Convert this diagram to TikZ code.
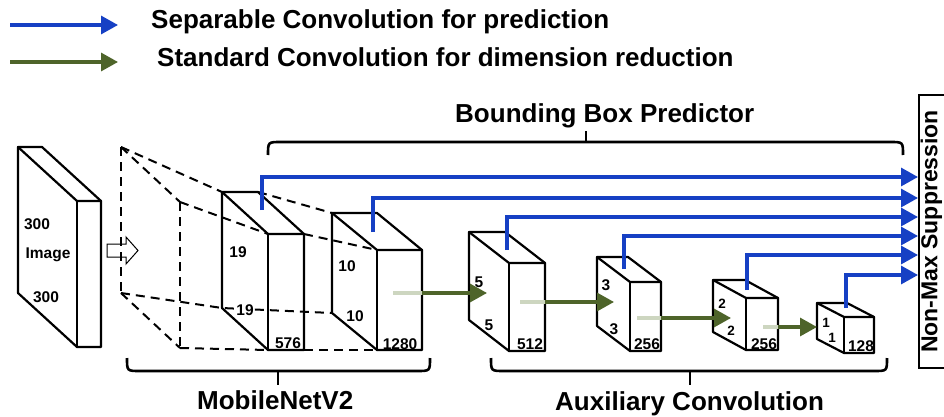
\documentclass[tikz,border=0pt]{standalone}
\usepackage{fontspec}
\setmainfont{Liberation Sans}
\usetikzlibrary{arrows.meta}
\definecolor{sepblue}{RGB}{22,64,196}
\definecolor{stdgreen}{RGB}{78,100,42}
\definecolor{stdfade}{RGB}{205,214,192}
\tikzset{
  blk/.style={draw=black, line width=2.2pt, line join=round, line cap=round},
  hiddenline/.style={draw=black, line width=2pt, dash pattern=on 9pt off 6pt},
  sep/.style={draw=sepblue, line width=3.2pt, -{Triangle[length=17pt,width=18pt]}},
  std/.style={draw=stdgreen, line width=3.2pt, -{Triangle[length=17pt,width=18pt]}},
  fadeline/.style={draw=stdfade, line width=3.2pt},
  bracepath/.style={draw=black, line width=2.6pt},
  title/.style={font=\fontsize{26}{29}\selectfont\bfseries, inner sep=0pt},
  dimlabel/.style={font=\fontsize{15.5}{17}\selectfont\bfseries, inner sep=0pt},
  smalllabel/.style={font=\fontsize{13.5}{15}\selectfont\bfseries, inner sep=0pt},
}
% cuboid: name, x, y (back top-left), width, height, depth dx, depth dy
\newcommand\featcube[7]{%
  \coordinate (#1-bl) at (#2,#3);
  \coordinate (#1-br) at (#2+#4,#3);
  \coordinate (#1-fl) at (#2+#6,#3+#7);
  \coordinate (#1-fr) at (#2+#4+#6,#3+#7);
  \coordinate (#1-fb) at (#2+#6,#3+#7+#5);
  \coordinate (#1-fbr) at (#2+#4+#6,#3+#7+#5);
  \coordinate (#1-bb) at (#2,#3+#5);
  \draw[blk] (#1-bl) -- (#1-br) -- (#1-fr) -- (#1-fbr) -- (#1-fb) -- (#1-bb) -- cycle;
  \draw[blk] (#1-bl) -- (#1-fl) -- (#1-fr);
  \draw[blk] (#1-fl) -- (#1-fb);
}
\begin{document}
\begin{tikzpicture}[x=1pt,y=-1pt]
\useasboundingbox (0,0) rectangle (944,417);

% legend
\coordinate (lga) at (10,25);  \coordinate (lgb) at (118,25);
\coordinate (lgc) at (10,62);  \coordinate (lgd) at (118,62);
\draw[sep] (lga) -- (lgb);
\draw[std] (lgc) -- (lgd);
\node[title, anchor=base west] (lgsep) at (151,29) {Separable Convolution for prediction};
\node[title, anchor=base west] (lgstd) at (157,67) {Standard Convolution for dimension reduction};

% input image slab
\featcube{img}{18}{147}{24}{146}{59}{54}
\node[dimlabel] (img300a) at (37,224) {300};
\node[dimlabel] (imgname) at (48,255) {Image};
\node[dimlabel] (img300b) at (46,297) {300};

% hollow arrow into the backbone
\draw[line width=1pt, line join=miter] (107,244) -- (126,244) -- (126,237) -- (138,250.5)
  -- (126,264) -- (126,257) -- (107,257) -- cycle;

% dashed backbone volume
\coordinate (dtl) at (121,147);
\coordinate (dbl) at (121,293);
\coordinate (dtf) at (180,202);
\coordinate (dbf) at (180,348);
\draw[hiddenline] (dtl) -- (dbl);
\draw[hiddenline] (dtf) -- (dbf);
\draw[hiddenline] (dtl) -- (dtf);
\draw[hiddenline] (dbl) -- (dbf);

% feature maps
\featcube{c19}{222}{192}{36}{116}{46}{42}
\featcube{c10}{332}{213}{45}{100}{45}{37}
\featcube{c5}{469}{232}{36}{88}{40}{31}
\featcube{c3}{597}{257}{31}{69}{33}{25}
\featcube{c2}{713}{280}{32}{52}{33}{18}
\featcube{c1}{817}{303}{30}{36}{27}{14}

% dashed projection lines
\draw[hiddenline] (dtl) -- (c19-bl);
\draw[hiddenline] (dtf) -- (c19-fl);
\draw[hiddenline] (dbl) -- (c19-bb) -- (c10-bb);
\draw[hiddenline] (dbf) -- (c19-fb);
\draw[hiddenline] (c19-br) -- (c10-bl);
\draw[hiddenline] (c19-fr) -- (c10-fl);
\draw[hiddenline] (c19-fbr) -- (c10-fb);

% dimension labels
\node[dimlabel] (l19a) at (238,252) {19};
\node[dimlabel, fill=white, inner sep=0.5pt] (l19b) at (245,310) {19};
\node[dimlabel] (l576) at (288,343) {576};
\node[dimlabel] (l10a) at (347,266) {10};
\node[dimlabel] (l10b) at (355,316) {10};
\node[dimlabel] (l1280) at (400,344) {1280};
\node[dimlabel] (l5a) at (479,282) {5};
\node[dimlabel] (l5b) at (489,325) {5};
\node[dimlabel] (l512) at (530,344) {512};
\node[dimlabel] (l3a) at (606,285) {3};
\node[dimlabel] (l3b) at (614,329) {3};
\node[dimlabel] (l256a) at (647,344) {256};
\node[smalllabel] (l2a) at (722,304) {2};
\node[smalllabel] (l2b) at (731,331) {2};
\node[dimlabel] (l256b) at (764,344) {256};
\node[smalllabel] (l1a) at (826,323) {1};
\node[smalllabel] (l1b) at (832,338) {1};
\node[dimlabel] (l128) at (861,346) {128};

% non-max suppression
\node[draw, line width=1.5pt, minimum width=32pt, minimum height=273pt, inner sep=0pt]
  (nms) at (935,231.5) {};
\node[rotate=90, font=\fontsize{23}{25}\selectfont\bfseries, inner sep=0pt]
  (nmstext) at (931.5,231.5) {Non-Max Suppression};

% prediction heads
\coordinate (p19) at (262,210);  \coordinate (n1) at (918,177);
\coordinate (p10) at (373,232);  \coordinate (n2) at (918,198);
\coordinate (p5)  at (507,250);  \coordinate (n3) at (918,217);
\coordinate (p3)  at (624,269);  \coordinate (n4) at (918,236);
\coordinate (p2)  at (747,290);  \coordinate (n5) at (918,255);
\coordinate (p1)  at (846,308);  \coordinate (n6) at (918,275);
\draw[sep] (p19) |- (n1);
\draw[sep] (p10) |- (n2);
\draw[sep] (p5)  |- (n3);
\draw[sep] (p3)  |- (n4);
\draw[sep] (p2)  |- (n5);
\draw[sep] (p1)  |- (n6);

% dimension reduction steps
\coordinate (g10s) at (393,293); \coordinate (g10e) at (422,293); \coordinate (g5in) at (487,293);
\coordinate (g5s)  at (520,302); \coordinate (g5e)  at (545,302); \coordinate (g3in) at (614,302);
\coordinate (g3s)  at (637,318); \coordinate (g3e)  at (661,318); \coordinate (g2in) at (731,318);
\coordinate (g2s)  at (763,327); \coordinate (g2e)  at (778,327); \coordinate (g1in) at (817,327);
\draw[fadeline] (g10s) -- (g10e);
\draw[std] (g10e) -- (g5in);
\draw[fadeline] (g5s) -- (g5e);
\draw[std] (g5e) -- (g3in);
\draw[fadeline] (g3s) -- (g3e);
\draw[std] (g3e) -- (g2in);
\draw[fadeline] (g2s) -- (g2e);
\draw[std] (g2e) -- (g1in);

% braces
\draw[bracepath] (268,155) .. controls (268,142) .. (281,142) -- (890,142) .. controls (903,142) .. (903,155);
\draw[bracepath] (586,142) -- (586,131);
\node[title, anchor=base west] (bbp) at (455,123) {Bounding Box Predictor};

\draw[bracepath] (127,358) .. controls (127,371) .. (140,371) -- (417,371) .. controls (430,371) .. (430,358);
\draw[bracepath] (278,371) -- (278,385);
\node[title, anchor=base west] (mnv2) at (197,409) {MobileNetV2};

\draw[bracepath] (491,358) .. controls (491,371) .. (504,371) -- (874,371) .. controls (887,371) .. (887,358);
\draw[bracepath] (690,371) -- (690,385);
\node[title, anchor=base west] (aux) at (555,410) {Auxiliary Convolution};
\end{tikzpicture}
\end{document}
